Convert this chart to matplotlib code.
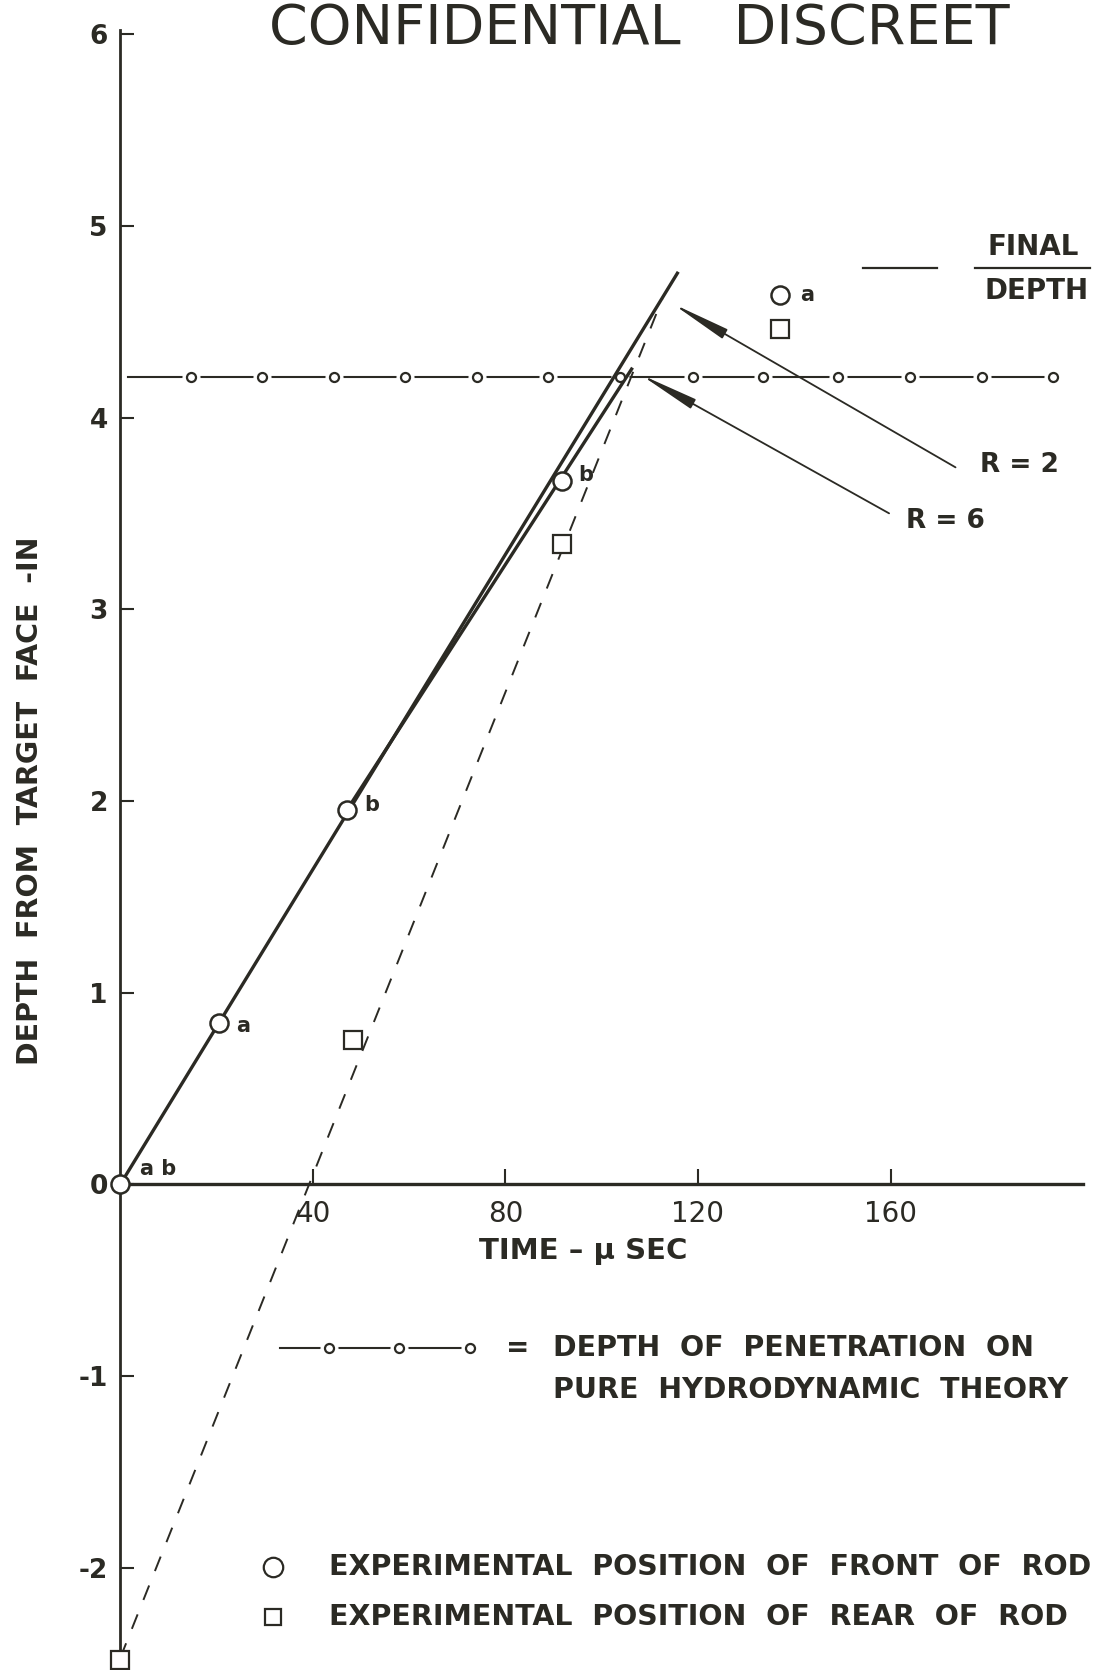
"""Penetration of a rod into a target: depth vs. time, with hydrodynamic limit."""
import matplotlib
matplotlib.use("Agg")
import matplotlib.pyplot as plt

INK = "#2b2a24"

# experimental position of front of rod (circles)
front_t = [0.0, 20.4, 47.0, 91.7, 137.1]
front_d = [0.0, 0.84, 1.95, 3.67, 4.64]
front_lbl = ["a b", "a", "b", "b", "a"]

# experimental position of rear of rod (squares)
rear_t = [0.0, 48.4, 91.7, 137.1]
rear_d = [-2.48, 0.75, 3.34, 4.46]

# computed front-of-rod lines for R = 2 and R = 6, and the rear-of-rod line
r2_t = [0.0, 115.9]
r2_d = [0.0, 4.76]
r6_t = [47.0, 106.4]
r6_d = [1.95, 4.26]
rear_fit_t = [0.0, 112.6]
rear_fit_d = [-2.47, 4.62]

# pure hydrodynamic theory depth
hydro_t = [14.6, 29.5, 44.3, 59.1, 74.0, 88.9, 103.8, 118.9, 133.6, 149.0, 164.1, 179.1, 193.8]
hydro_line_t = [1.5, 193.8]
hydro_depth = 4.21

x_ticks = [40, 80, 120, 160]
y_ticks = [-2, -1, 0, 1, 2, 3, 4, 5, 6]

# label offsets (points) for the a / b tags next to the circles
LBL_OFF = [(14, 11), (13, -2), (13, 4), (12, 4), (14, 0)]


def hydro_row(ax, xs, y, x0, x1):
    ax.plot([x0, x1], [y, y], color=INK, lw=1.5, zorder=1)
    ax.plot(xs, [y] * len(xs), ls="none", marker="o", ms=12,
            mfc="white", mec="white", zorder=1.5)
    ax.plot(xs, [y] * len(xs), ls="none", marker="o", ms=6.5,
            mfc="white", mec=INK, mew=1.6, zorder=4)


def main():
    plt.rcParams["font.family"] = ["DejaVu Sans"]
    plt.rcParams["axes.unicode_minus"] = False

    fig = plt.figure(figsize=(10.98, 16.70), dpi=100)
    ax = fig.add_axes([0, 0, 1, 1])
    ax.set_xlim(-25.0, 203.1)
    ax.set_ylim(-2.534, 6.178)

    # axes drawn through the origin
    for s in ("top", "right"):
        ax.spines[s].set_visible(False)
    ax.spines["left"].set_position(("data", 0))
    ax.spines["left"].set_bounds(-2.43, 6.02)
    ax.spines["left"].set_linewidth(2.0)
    ax.spines["bottom"].set_position(("data", 0))
    ax.spines["bottom"].set_bounds(0, 200)
    ax.spines["bottom"].set_linewidth(2.4)
    for s in ("left", "bottom"):
        ax.spines[s].set_color(INK)
    ax.set_xticks(x_ticks)
    ax.set_yticks(y_ticks)
    ax.tick_params(axis="x", direction="in", length=11, width=1.5, pad=11,
                   labelsize=20, colors=INK)
    ax.tick_params(axis="y", direction="in", length=10, width=1.5, pad=9,
                   labelsize=19, colors=INK)
    for t in ax.get_yticklabels():
        t.set_fontweight("bold")

    ax.set_xlabel("TIME – μ SEC", fontsize=21, fontweight="bold", color=INK)
    ax.xaxis.set_label_coords(96.1, -0.35, transform=ax.transData)
    ax.xaxis.label.set_va("center")
    ax.set_ylabel("DEPTH  FROM  TARGET  FACE  -IN", fontsize=20.5,
                  fontweight="bold", color=INK)
    ax.yaxis.set_label_coords(-18.8, 2.0, transform=ax.transData)
    ax.yaxis.label.set_va("center")

    # hydrodynamic limit
    hydro_row(ax, hydro_t, hydro_depth, *hydro_line_t)

    # lines
    ax.plot(r2_t, r2_d, color=INK, lw=2.4, zorder=2, solid_capstyle="butt")
    ax.plot(r6_t, r6_d, color=INK, lw=2.4, zorder=2, solid_capstyle="butt")
    ax.plot(rear_fit_t, rear_fit_d, color=INK, lw=1.4, ls=(0, (8, 8)), zorder=2)

    # experimental points
    ax.plot(front_t, front_d, ls="none", marker="o", ms=13, mfc="white",
            mec=INK, mew=1.8, zorder=5, clip_on=False)
    ax.plot(rear_t, rear_d, ls="none", marker="s", ms=13, mfc="white",
            mec=INK, mew=1.6, zorder=5, clip_on=False)
    for t, d, lbl, off in zip(front_t, front_d, front_lbl, LBL_OFF):
        ax.annotate(lbl, (t, d), xytext=off, textcoords="offset points",
                    ha="left", va="center", fontsize=15, fontweight="bold",
                    color=INK)

    # R = 2 / R = 6 leaders
    arrow = dict(arrowstyle="-|>,head_length=3.6,head_width=0.32", lw=1.3,
                 color=INK, shrinkA=0, shrinkB=7, mutation_scale=10)
    ax.annotate("", xy=(r2_t[1] - 3.0, 4.62), xytext=(173.5, 3.74),
                arrowprops=arrow, zorder=3)
    ax.annotate("", xy=(r6_t[1] - 0.2, 4.25), xytext=(159.7, 3.50),
                arrowprops=arrow, zorder=3)
    ax.text(178.6, 3.75, "R = 2", ha="left", va="center", fontsize=19,
            fontweight="bold", color=INK)
    ax.text(163.2, 3.46, "R = 6", ha="left", va="center", fontsize=19,
            fontweight="bold", color=INK)

    # FINAL / DEPTH
    ax.plot([154.3, 169.6], [4.78, 4.78], color=INK, lw=1.6)
    ax.plot([177.5, 201.4], [4.78, 4.78], color=INK, lw=1.6, clip_on=False)
    ax.text(189.6, 4.89, "FINAL", ha="center", va="center", fontsize=20,
            fontweight="bold", color=INK)
    ax.text(190.3, 4.66, "DEPTH", ha="center", va="center", fontsize=20,
            fontweight="bold", color=INK)

    # key
    hydro_row(ax, [43.4, 57.9, 72.7], -0.855, 33.2, 72.7)
    ax.text(82.6, -0.855, "=", ha="center", va="center", fontsize=20,
            fontweight="bold", color=INK)
    ax.text(89.9, -0.855, "DEPTH  OF  PENETRATION  ON", ha="left",
            va="center", fontsize=20.5, fontweight="bold", color=INK)
    ax.text(89.9, -1.073, "PURE  HYDRODYNAMIC  THEORY", ha="left",
            va="center", fontsize=20.5, fontweight="bold", color=INK)
    ax.plot([31.7], [-1.995], ls="none", marker="o", ms=14, mfc="white",
            mec=INK, mew=1.6)
    ax.plot([31.7], [-2.26], ls="none", marker="s", ms=12, mfc="white",
            mec=INK, mew=1.6)
    ax.text(43.3, -1.995, "EXPERIMENTAL  POSITION  OF  FRONT  OF  ROD",
            ha="left", va="center", fontsize=20.5, fontweight="bold", color=INK)
    ax.text(43.3, -2.26, "EXPERIMENTAL  POSITION  OF  REAR  OF  ROD",
            ha="left", va="center", fontsize=20.5, fontweight="bold", color=INK)

    # stamp at the top, kept just inside the page
    fig.text(0.582, 1 - 44 / 1670, "CONFIDENTIAL   DISCREET", ha="center",
             va="baseline", fontsize=40, color=INK)

    fig.savefig("out.png", dpi=100, facecolor="white")
    plt.close(fig)


if __name__ == "__main__":
    main()
